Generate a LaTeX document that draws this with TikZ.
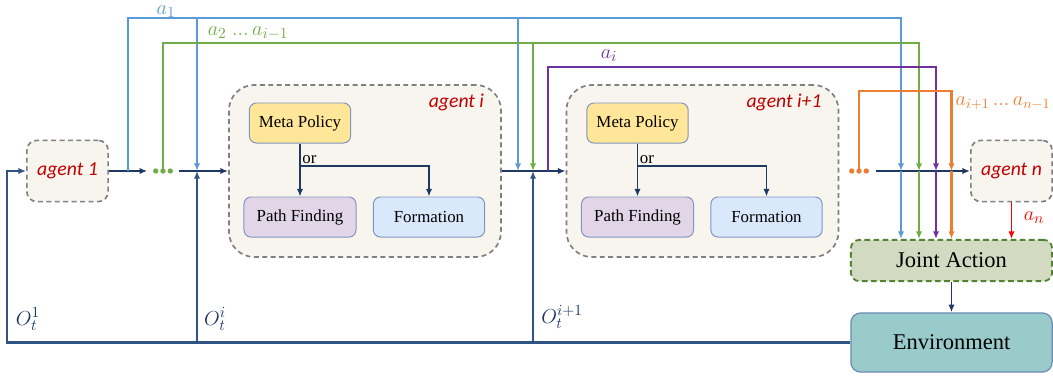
\documentclass[tikz,border=0pt]{standalone}
\usepackage{fontspec}
\setmainfont{Liberation Serif}
\newfontfamily\agentfont{Carlito}
\usetikzlibrary{arrows.meta,positioning,calc}

\definecolor{navy}{HTML}{203864}
\definecolor{obsline}{HTML}{2F5483}
\definecolor{aone}{HTML}{5B9BD5}
\definecolor{amid}{HTML}{70AD47}
\definecolor{aself}{HTML}{7030A0}
\definecolor{arest}{HTML}{ED7D31}
\definecolor{agentred}{HTML}{C00000}
\definecolor{agentfill}{HTML}{F7F5EE}
\definecolor{metafill}{HTML}{FFE699}
\definecolor{pathfill}{HTML}{E1D5E7}
\definecolor{formfill}{HTML}{DAE8FC}
\definecolor{boxline}{HTML}{7F96C0}
\definecolor{jointfill}{HTML}{D3DAC2}
\definecolor{jointline}{HTML}{548235}
\definecolor{envfill}{HTML}{9ACBCB}
\definecolor{envline}{HTML}{6A8CB5}

\begin{document}
\begin{tikzpicture}[
    x=0.025cm,
    y=-0.025cm,
    >={Latex[length=5.5pt,width=4.5pt]},
    agent/.style={
        draw=gray,
        dash pattern=on 3.5pt off 2.5pt,
        line width=1.2pt,
        fill=agentfill,
        rounded corners=7pt,
        minimum width=2.03cm,
        minimum height=1.53cm,
        text=agentred,
        font=\agentfont\itshape\fontsize{14}{16}\selectfont
    },
    agentbig/.style={agent, rounded corners=18pt, minimum width=6.8cm, minimum height=4.3cm},
    agenttag/.style={text=agentred, inner sep=0pt, font=\agentfont\itshape\fontsize{14}{16}\selectfont},
    policy/.style={
        draw=boxline,
        line width=0.7pt,
        rounded corners=5pt,
        minimum width=2.53cm,
        minimum height=1cm,
        font=\fontsize{12}{14}\selectfont
    },
    meta/.style={policy, fill=metafill},
    pathf/.style={policy, fill=pathfill, minimum width=2.8cm},
    formn/.style={policy, fill=formfill, minimum width=2.78cm},
    joint/.style={draw=jointline, dash pattern=on 4pt off 2.5pt, line width=1.3pt, fill=jointfill,
        rounded corners=6pt, minimum width=5.03cm, minimum height=1.03cm, font=\fontsize{16}{18}\selectfont},
    env/.style={draw=envline, line width=0.9pt, fill=envfill, rounded corners=7pt,
        minimum width=5.03cm, minimum height=1.48cm, font=\fontsize{16}{18}\selectfont},
    flow/.style={draw=navy, line width=1.3pt, ->},
    obs/.style={draw=obsline, line width=1.5pt},
    act/.style={line width=1.6pt, ->},
    dots/.style={inner sep=0pt, minimum width=0.35cm, minimum height=0.1cm},
    mlab/.style={inner sep=1pt, font=\fontsize{15}{17}\selectfont}
]
\useasboundingbox (0,0) rectangle (1053,377);

\node[agent] (agent1) at (67.5,171) {agent 1};
\node[agentbig] (agi) at (365,171) {};
\node[agentbig] (agii) at (702.5,171) {};
\node[agent] (agentn) at (1011.5,171) {agent n};
\node[joint] (joint) at (951.5,260.5) {Joint Action};
\node[env] (env) at (951.5,342.5) {Environment};

\foreach \ag/\tag in {agi/agent i, agii/agent i+1} {
  \node[agenttag, below left=0.25cm and 0.44cm of \ag.north east] (tag\ag) {\tag};
  \node[meta] (meta\ag) at ($(\ag)+(-65,-48)$) {Meta Policy};
  \node[pathf] (path\ag) at ($(\ag)+(-65,46)$) {Path Finding};
  \node[formn] (form\ag) at ($(\ag)+(64,46)$) {Formation};
  \coordinate (split\ag) at ($(\ag)+(-65,-5)$);
  \node[above right, inner sep=1.5pt, font=\fontsize{12}{14}\selectfont] (or\ag) at (split\ag) {or};
  \draw[flow, line width=1pt] (meta\ag) -- (path\ag);
  \draw[flow, line width=1pt] (split\ag) -| (form\ag);
}

\node[dots] (dots1) at (163,171) {};
\node[dots] (dots2) at (859,171) {};
\fill[amid] (dots1.west) circle (1.9pt) (dots1) circle (1.9pt) (dots1.east) circle (1.9pt);
\fill[arest] (dots2.west) circle (1.9pt) (dots2) circle (1.9pt) (dots2.east) circle (1.9pt);

\coordinate (loop) at (7,171);
\coordinate (a1src) at (128,171);
\coordinate (ini) at (197,171);
\coordinate (a1ii) at (518,171);
\coordinate (inii) at (533,171);
\coordinate (aisrc) at (548,171);
\coordinate (jin1) at ($(joint.north)+(-50.5,0)$);
\coordinate (jin2) at ($(joint.north)+(-32.5,0)$);
\coordinate (jin3) at ($(joint.north)+(-15.5,0)$);
\coordinate (jin4) at ($(joint.north)+(0,0)$);

\draw[flow, shorten >=6pt] (agent1) -- (dots1);
\draw[flow, shorten <=6.5pt] (dots1) -- (agi);
\draw[flow] (agi) -- (agii);
\draw[flow, shorten <=7pt] (dots2) -- (agentn);

\draw[obs, ->] (env.west) -| (loop) -- (agent1);
\draw[obs, ->] (env.west -| ini) -- (ini);
\draw[obs, ->] (env.west -| inii) -- (inii);

\draw[act, aone] (a1src) |- (jin1 |- 0,18) -- (jin1 |- dots2);
\draw[act, aone] (ini |- 0,18) -- (ini);
\draw[act, aone] (a1ii |- 0,18) -- (a1ii);
\draw[act, amid] (dots1) |- (jin2 |- 0,43) -- (jin2 |- dots2);
\draw[act, amid] (inii |- 0,43) -- (inii);
\draw[act, aself] (aisrc) |- (jin3 |- 0,67) -- (jin3 |- dots2);
\draw[act, arest] (dots2) |- (jin4 |- 0,91) -- (jin4 |- dots2);
\draw[act, aone] (jin1 |- dots2) -- (jin1);
\draw[act, amid] (jin2 |- dots2) -- (jin2);
\draw[act, aself] (jin3 |- dots2) -- (jin3);
\draw[act, arest] (jin4 |- dots2) -- (jin4);
\draw[act, red, line width=1.2pt] (agentn) -- (agentn |- joint.north);
\draw[flow] (joint) -- (env);

\node[mlab, text=aone] (la1) at (166,12) {$a_1$};
\node[mlab, text=amid] (lamid) at (248,33) {$a_2\;{.}{.}{.}\,a_{i-1}$};
\node[mlab, text=aself] (lai) at (609,56) {$a_i$};
\node[mlab, text=arest, anchor=west, font=\fontsize{14}{16}\selectfont] (larest) at (954,103) {$a_{i+1}\,{.}{.}{.}\,a_{n-1}$};
\node[mlab, text=red] (lan) at (1034,218) {$a_n$};
\node[mlab, text=navy] (lo1) at (28,319) {$O_t^1$};
\node[mlab, text=navy] (loi) at (215,319) {$O_t^i$};
\node[mlab, text=navy] (loii) at (562,317) {$O_t^{i+1}$};
\end{tikzpicture}
\end{document}
